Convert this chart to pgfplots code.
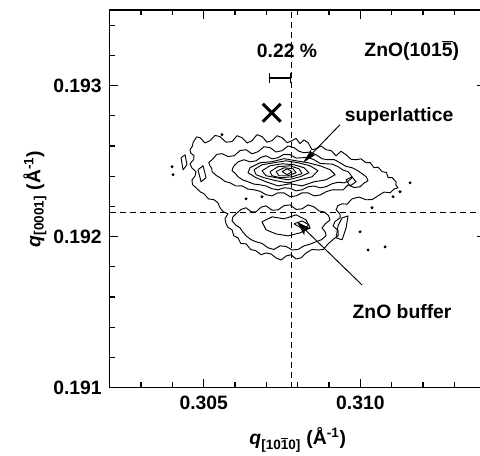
\documentclass[border=0pt]{standalone}
\usepackage{fontspec}
\setmainfont{Liberation Sans}
\usepackage{pgfplots}
\pgfplotsset{compat=1.18}
\usetikzlibrary{arrows.meta}

\newcommand{\lblfont}{\fontsize{14.5}{17}\selectfont\bfseries}

\begin{document}
\begin{tikzpicture}
\begin{axis}[
  scale only axis, width=282pt, height=283.3pt,
  xmin=0.302, xmax=0.314, ymin=0.191, ymax=0.1935,
  scaled ticks=false,
  xtick={0.305,0.310}, xticklabels={0.305,0.310},
  ytick={0.191,0.192,0.193}, yticklabels={0.191,0.192,0.193},
  minor xtick={0.303,0.304,0.306,0.307,0.308,0.309,0.311,0.312,0.313},
  minor ytick={0.1912,0.1914,0.1916,0.1918,0.1922,0.1924,0.1926,0.1928,0.1932,0.1934},
  tick align=inside,
  major tick length=6.5pt, minor tick length=4pt,
  every tick/.style={black, line width=0.9pt},
  axis line style={line width=1pt},
  /pgf/number format/assume math mode=true,
  tick label style={font=\lblfont},
  xticklabel style={yshift=-2.7pt},
  yticklabel style={xshift=-2.5pt},
  label style={font=\lblfont},
  xlabel={\textit{q}\textsubscript{[10$\overline{\mbox{1}}$0]} (Å\textsuperscript{-1})},
  ylabel={\textit{q}\textsubscript{[0001]} (Å\textsuperscript{-1})},
  xlabel style={at={(axis description cs:0.5,-0.138)}, anchor=center},
  ylabel style={at={(axis description cs:-0.199,0.5)}, anchor=center},
  cline/.style={black, line width=0.7pt, line join=round, mark=none},
]
% reference lines
\addplot[black, line width=0.9pt, dash pattern=on 4.5pt off 3pt]
  coordinates {(0.30779,0.191) (0.30779,0.1935)};
\addplot[black, line width=0.9pt, dash pattern=on 4.5pt off 3pt]
  coordinates {(0.302,0.19216) (0.314,0.19216)};

% contours: outermost
\addplot[cline] coordinates {
 (0.304659,0.192622) (0.304770,0.192660) (0.304882,0.192655) (0.305040,0.192620)
 (0.305201,0.192635) (0.305360,0.192670) (0.305520,0.192662) (0.305712,0.192625)
 (0.305904,0.192629) (0.306063,0.192668) (0.306223,0.192655) (0.306383,0.192620)
 (0.306542,0.192635) (0.306700,0.192675) (0.306861,0.192662) (0.307020,0.192625)
 (0.307180,0.192635) (0.307340,0.192668) (0.307500,0.192655) (0.307660,0.192622)
 (0.307819,0.192635) (0.307946,0.192650) (0.308074,0.192616) (0.308200,0.192640)
 (0.308329,0.192622) (0.308457,0.192575) (0.308585,0.192582) (0.308745,0.192600)
 (0.308904,0.192575) (0.309064,0.192570) (0.309224,0.192535) (0.309383,0.192565)
 (0.309543,0.192542) (0.309700,0.192512) (0.309862,0.192509) (0.310020,0.192515)
 (0.310181,0.192489) (0.310309,0.192490) (0.310436,0.192456) (0.310564,0.192460)
 (0.310692,0.192430) (0.310830,0.192425) (0.310883,0.192390) (0.311011,0.192390)
 (0.311139,0.192363) (0.311130,0.192343) (0.311202,0.192323) (0.311075,0.192315)
 (0.310947,0.192290) (0.310755,0.192295) (0.310563,0.192270) (0.310372,0.192245)
 (0.310181,0.192244) (0.309958,0.192262) (0.309734,0.192250) (0.309575,0.192215)
 (0.309415,0.192217) (0.309280,0.192205) (0.309224,0.192177) (0.309350,0.192150)
 (0.309351,0.192124) (0.309190,0.192100) (0.309128,0.192071) (0.309290,0.192040)
 (0.309287,0.192005) (0.309150,0.191985) (0.308967,0.191952) (0.308820,0.191915)
 (0.308648,0.191912) (0.308457,0.191915) (0.308266,0.191892) (0.308110,0.191860)
 (0.307947,0.191852) (0.307790,0.191880) (0.307628,0.191872) (0.307470,0.191845)
 (0.307308,0.191859) (0.307150,0.191885) (0.306989,0.191892) (0.306830,0.191880)
 (0.306670,0.191906) (0.306500,0.191915) (0.306351,0.191952) (0.306180,0.191955)
 (0.306095,0.191992) (0.305960,0.192005) (0.305904,0.192045) (0.305780,0.192060)
 (0.305712,0.192085) (0.305680,0.192120) (0.305775,0.192151) (0.305620,0.192165)
 (0.305520,0.192191) (0.305450,0.192225) (0.305329,0.192244) (0.305150,0.192250)
 (0.305010,0.192284) (0.304900,0.192295) (0.304755,0.192323) (0.304640,0.192345)
 (0.304627,0.192376) (0.304720,0.192400) (0.304755,0.192430) (0.304620,0.192455)
 (0.304563,0.192482) (0.304680,0.192510) (0.304691,0.192535) (0.304580,0.192555)
 (0.304563,0.192575) (0.304640,0.192600) (0.304659,0.192622)};
% superlattice contours
\addplot[cline] coordinates {
 (0.305265,0.192509) (0.305420,0.192545) (0.305584,0.192549) (0.305776,0.192530)
 (0.305968,0.192535) (0.306160,0.192570) (0.306351,0.192575) (0.306540,0.192548)
 (0.306733,0.192562) (0.306925,0.192595) (0.307116,0.192589) (0.307308,0.192560)
 (0.307500,0.192569) (0.307690,0.192600) (0.307883,0.192589) (0.308040,0.192565)
 (0.308202,0.192555) (0.308390,0.192560) (0.308585,0.192542) (0.308780,0.192515)
 (0.308967,0.192509) (0.309160,0.192510) (0.309351,0.192489) (0.309540,0.192465)
 (0.309734,0.192456) (0.309890,0.192440) (0.310053,0.192417) (0.310190,0.192395)
 (0.310244,0.192370) (0.310120,0.192355) (0.309989,0.192330) (0.309800,0.192325)
 (0.309606,0.192343) (0.309450,0.192310) (0.309287,0.192310) (0.309095,0.192310)
 (0.308904,0.192297) (0.308710,0.192275) (0.308521,0.192270) (0.308330,0.192290)
 (0.308138,0.192290) (0.307950,0.192270) (0.307755,0.192264) (0.307560,0.192290)
 (0.307371,0.192290) (0.307180,0.192270) (0.306989,0.192277) (0.306800,0.192300)
 (0.306606,0.192310) (0.306410,0.192315) (0.306223,0.192336) (0.306030,0.192335)
 (0.305840,0.192356) (0.305680,0.192365) (0.305520,0.192390) (0.305400,0.192405)
 (0.305265,0.192430) (0.305260,0.192450) (0.305201,0.192469) (0.305160,0.192490)
 (0.305265,0.192509)};
\addplot[cline] coordinates {
 (0.305968,0.192469) (0.306100,0.192495) (0.306287,0.192509) (0.306480,0.192495)
 (0.306670,0.192502) (0.306830,0.192525) (0.306989,0.192535) (0.307180,0.192515)
 (0.307371,0.192522) (0.307560,0.192545) (0.307755,0.192542) (0.307950,0.192520)
 (0.308138,0.192522) (0.308330,0.192525) (0.308521,0.192509) (0.308710,0.192485)
 (0.308904,0.192482) (0.309100,0.192480) (0.309287,0.192463) (0.309450,0.192440)
 (0.309606,0.192430) (0.309690,0.192410) (0.309734,0.192390) (0.309600,0.192365)
 (0.309479,0.192356) (0.309290,0.192360) (0.309096,0.192350) (0.308900,0.192330)
 (0.308712,0.192323) (0.308520,0.192335) (0.308329,0.192330) (0.308140,0.192310)
 (0.307947,0.192303) (0.307750,0.192320) (0.307564,0.192323) (0.307370,0.192310)
 (0.307180,0.192317) (0.306990,0.192335) (0.306797,0.192343) (0.306600,0.192348)
 (0.306414,0.192363) (0.306250,0.192375) (0.306095,0.192396) (0.306000,0.192420)
 (0.305904,0.192436) (0.305930,0.192455) (0.305968,0.192469)};
\addplot[cline] coordinates {
 (0.306478,0.192456) (0.306797,0.192489) (0.307180,0.192496) (0.307564,0.192516)
 (0.307947,0.192502) (0.308329,0.192489) (0.308712,0.192469) (0.309032,0.192443)
 (0.309192,0.192410) (0.308904,0.192376) (0.308521,0.192363) (0.308138,0.192336)
 (0.307755,0.192350) (0.307371,0.192336) (0.306989,0.192363) (0.306670,0.192390)
 (0.306414,0.192423) (0.306478,0.192456)};
\addplot[cline] coordinates {
 (0.306606,0.192443) (0.306861,0.192476) (0.307244,0.192489) (0.307628,0.192502)
 (0.308010,0.192489) (0.308393,0.192469) (0.308648,0.192436) (0.308457,0.192396)
 (0.308074,0.192376) (0.307691,0.192356) (0.307308,0.192370) (0.306925,0.192390)
 (0.306670,0.192410) (0.306606,0.192443)};
\addplot[cline] coordinates {
 (0.306861,0.192436) (0.307116,0.192469) (0.307500,0.192482) (0.307883,0.192476)
 (0.308202,0.192456) (0.308361,0.192423) (0.308074,0.192396) (0.307691,0.192376)
 (0.307308,0.192390) (0.306989,0.192403) (0.306861,0.192436)};
\addplot[cline] coordinates {
 (0.307116,0.192430) (0.307371,0.192463) (0.307755,0.192469) (0.308042,0.192449)
 (0.308138,0.192417) (0.307819,0.192396) (0.307436,0.192390) (0.307180,0.192403)
 (0.307116,0.192430)};
\addplot[cline] coordinates {
 (0.307308,0.192430) (0.307564,0.192456) (0.307851,0.192449) (0.307947,0.192423)
 (0.307691,0.192403) (0.307404,0.192403) (0.307308,0.192430)};
\addplot[cline] coordinates {
 (0.307500,0.192430) (0.307659,0.192449) (0.307819,0.192430) (0.307659,0.192410)
 (0.307500,0.192430)};
% ZnO buffer contours
\addplot[cline] coordinates {
 (0.306032,0.192151) (0.306190,0.192180) (0.306351,0.192191) (0.306510,0.192165)
 (0.306670,0.192164) (0.306830,0.192195) (0.306989,0.192204) (0.307180,0.192175)
 (0.307371,0.192177) (0.307560,0.192205) (0.307755,0.192210) (0.307950,0.192180)
 (0.308138,0.192184) (0.308330,0.192210) (0.308521,0.192197) (0.308680,0.192170)
 (0.308840,0.192164) (0.308980,0.192140) (0.309032,0.192111) (0.308880,0.192085)
 (0.308776,0.192058) (0.308880,0.192030) (0.308904,0.192005) (0.308760,0.191980)
 (0.308585,0.191966) (0.308390,0.191950) (0.308202,0.191939) (0.308010,0.191915)
 (0.307819,0.191912) (0.307630,0.191935) (0.307436,0.191939) (0.307240,0.191915)
 (0.307052,0.191926) (0.306860,0.191955) (0.306670,0.191966) (0.306510,0.191980)
 (0.306351,0.192005) (0.306250,0.192030) (0.306159,0.192058) (0.306030,0.192075)
 (0.305904,0.192104) (0.305930,0.192130) (0.306032,0.192151)};
\addplot[cline] coordinates {
 (0.306861,0.192098) (0.307180,0.192131) (0.307564,0.192118) (0.307947,0.192144)
 (0.308266,0.192111) (0.308393,0.192058) (0.308074,0.192025) (0.307691,0.192005)
 (0.307308,0.192018) (0.306989,0.192045) (0.306861,0.192098)};
\addplot[cline] coordinates {
 (0.307883,0.192085) (0.308138,0.192104) (0.308361,0.192078) (0.308170,0.192051)
 (0.307883,0.192085)};
% small islands
\addplot[cline] coordinates {
 (0.309543,0.192376) (0.309734,0.192396) (0.309862,0.192363) (0.309670,0.192336)
 (0.309543,0.192376)};
\addplot[cline] coordinates {
 (0.309287,0.192071) (0.309415,0.192124) (0.309606,0.192137) (0.309543,0.192058)
 (0.309415,0.191979) (0.309224,0.191992) (0.309287,0.192071)};
\addplot[cline] coordinates {
 (0.304276,0.192522) (0.304404,0.192542) (0.304467,0.192476) (0.304340,0.192443)
 (0.304276,0.192522)};
\addplot[cline] coordinates {
 (0.304818,0.192443) (0.304978,0.192469) (0.305074,0.192390) (0.304914,0.192363)
 (0.304818,0.192443)};
\addplot[only marks, mark=*, mark size=0.9pt, black] coordinates {
 (0.311585,0.192356) (0.311266,0.192297) (0.310788,0.191932) (0.310244,0.191912)
 (0.311043,0.192264) (0.303989,0.192463) (0.304021,0.192410) (0.305584,0.192675)
 (0.306861,0.192264) (0.306351,0.192250) (0.310372,0.192191) (0.309989,0.192032)};

% cross and scale bar
\addplot[only marks, mark=x, mark size=9.5pt, line width=2.3pt, black]
  coordinates {(0.30717,0.19282)};
\draw[line width=0.8pt, {Bar[width=8pt]}-{Bar[width=8pt]}]
  (axis cs:0.30709,0.19305) -- (axis cs:0.30779,0.19305);

% annotations
\node[font=\lblfont] at (axis cs:0.307659,0.193227) {0.22 \%};
\node[font=\lblfont] at (axis cs:0.311639,0.193235) {ZnO(101$\overline{\mbox{5}}$)};
\node[font=\lblfont] at (axis cs:0.311234,0.192796) {superlattice};
\node[font=\lblfont] at (axis cs:0.311330,0.191503) {ZnO buffer};
\draw[line width=0.7pt, -{Stealth[length=11pt,width=5pt,inset=2pt]}]
  (axis cs:0.309351,0.192741) -- (axis cs:0.308170,0.192489);
\draw[line width=0.7pt, -{Stealth[length=11pt,width=7pt,inset=3pt]}]
  (axis cs:0.310053,0.191680) -- (axis cs:0.307978,0.192098);
\end{axis}
\pgfresetboundingbox
\path[use as bounding box] (-82.3pt,-51.2pt) rectangle (277.7pt,290.8pt);
\end{tikzpicture}
\end{document}
